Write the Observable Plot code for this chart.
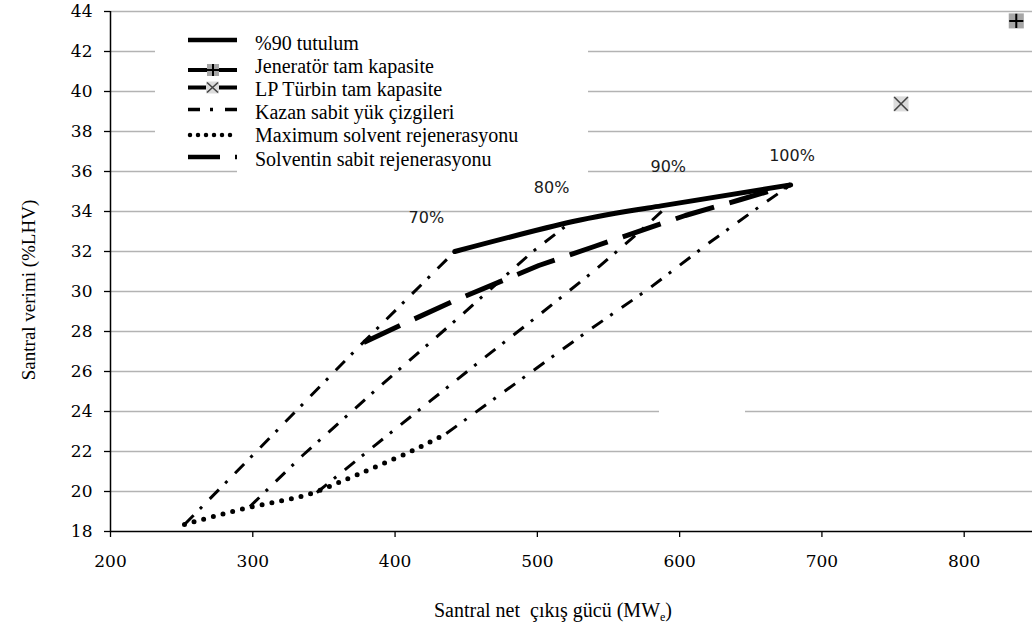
<!DOCTYPE html>
<html>
<head>
<meta charset="utf-8">
<script src="https://cdn.jsdelivr.net/npm/d3@7"></script>
<script src="https://cdn.jsdelivr.net/npm/@observablehq/plot@0.6"></script>
<style>
  html, body { margin: 0; padding: 0; background: white; }
  #chart { width: 1032px; height: 628px; }
</style>
</head>
<body>
<div id="chart"></div>
<script>
// ---- data ----
const xTicks = [200, 300, 400, 500, 600, 700, 800];
const yTicks = [18, 20, 22, 24, 26, 28, 30, 32, 34, 36, 38, 40, 42, 44];

// %90 tutulum (solid)
const tutulumX = [442, 525, 587, 678];
const tutulumY = [32.0, 33.5, 34.28, 35.33];

// Solventin sabit rejenerasyonu (long dash)
const sabitX = [378, 405, 442, 501, 540, 604, 643, 678];
const sabitY = [27.45, 28.35, 29.55, 31.3, 32.25, 33.8, 34.6, 35.33];

// Maximum solvent rejenerasyonu (dotted)
const maxX = [252, 274, 297, 320, 343, 367, 387, 414, 436];
const maxY = [18.35, 18.78, 19.2, 19.53, 19.95, 20.65, 21.25, 22.1, 22.9];

// Kazan sabit yük çizgileri (dash-dot), one per load
const kazanNames = ["70%", "80%", "90%", "100%"];
const k70X = [252, 306, 374, 442];
const k70Y = [18.35, 22.25, 27.2, 32.0];
const k80X = [298, 335, 390, 448, 496, 524];
const k80Y = [19.25, 21.8, 25.3, 28.9, 31.95, 33.5];
const k90X = [345, 387, 425, 463, 502, 540, 570, 592];
const k90Y = [19.95, 22.37, 24.54, 26.7, 28.87, 31.04, 32.87, 34.3];
const k100X = [436, 484, 537, 578, 622, 657, 678];
const k100Y = [22.9, 25.37, 28.1, 30.12, 32.5, 34.29, 35.33];

// Load labels
const pctLabels = ["70%", "80%", "90%", "100%"];
const pctX = [422, 510, 592, 679];
const pctY = [33.67, 35.17, 36.24, 36.79];

// Single points
const jenX = [836.6], jenY = [43.53];   // Jeneratör tam kapasite
const lpX = [755.6], lpY = [39.38];     // LP Türbin tam kapasite

const legendLabels = ["%90 tutulum", "Jeneratör tam kapasite", "LP Türbin tam kapasite",
  "Kazan sabit yük çizgileri", "Maximum solvent rejenerasyonu", "Solventin sabit rejenerasyonu"];

// ---- tables ----
const zip = (xs, ys, extra = {}) => xs.map((x, i) => ({x, y: ys[i], ...extra}));
const tutulum = zip(tutulumX, tutulumY);
const sabit = zip(sabitX, sabitY);
const maxSol = zip(maxX, maxY);
const kazan = [
  ...zip(k70X, k70Y, {s: kazanNames[0]}),
  ...zip(k80X, k80Y, {s: kazanNames[1]}),
  ...zip(k90X, k90Y, {s: kazanNames[2]}),
  ...zip(k100X, k100Y, {s: kazanNames[3]})
];
const pct = pctLabels.map((t, i) => ({t, x: pctX[i], y: pctY[i]}));
const jen = zip(jenX, jenY);
const lp = zip(lpX, lpY);

const chart = Plot.plot({
  width: 1032,
  height: 628,
  marginLeft: 110,
  marginRight: 0,
  marginTop: 11,
  marginBottom: 97,
  style: {background: "white", overflow: "visible", fontSize: "17px", color: "black"},
  x: {domain: [200, 848]},
  y: {domain: [18, 44]},
  marks: [
    Plot.ruleY(yTicks.slice(1), {stroke: "#b3b3b3", strokeWidth: 1.6}),
    Plot.ruleX([200], {stroke: "black", strokeWidth: 1.5}),
    Plot.ruleY([18], {stroke: "black", strokeWidth: 1.5}),
    Plot.axisX({ticks: xTicks, tickSize: 6, tickPadding: 17, fontSize: 17,
      label: null, tickFormat: d => String(d), strokeWidth: 1.3}),
    Plot.axisY({ticks: yTicks, tickSize: 6, tickPadding: 12, fontSize: 17,
      label: null, tickFormat: d => String(d), strokeWidth: 1.3}),
    Plot.line(kazan, {x: "x", y: "y", z: "s", stroke: "black", strokeWidth: 3,
      strokeDasharray: "13,9,3,11", strokeLinecap: "butt"}),
    Plot.line(maxSol, {x: "x", y: "y", stroke: "black", strokeWidth: 5,
      strokeDasharray: "0,10", strokeLinecap: "round", curve: "natural"}),
    Plot.line(sabit, {x: "x", y: "y", stroke: "black", strokeWidth: 5,
      strokeDasharray: "40,16", strokeLinecap: "butt"}),
    Plot.line(tutulum, {x: "x", y: "y", stroke: "black", strokeWidth: 5,
      strokeLinecap: "round", curve: "natural"}),
    Plot.dot(jen, {x: "x", y: "y", symbol: "square", r: 8.5, fill: "#a6a6a6"}),
    Plot.dot(jen, {x: "x", y: "y", symbol: "plus", r: 4.6, stroke: "black", strokeWidth: 2}),
    Plot.dot(lp, {x: "x", y: "y", symbol: "square", r: 8.5, fill: "#dcdcdc"}),
    Plot.dot(lp, {x: "x", y: "y", symbol: "times", r: 6.3, stroke: "#444", strokeWidth: 1.6}),
    Plot.text(pct, {x: "x", y: "y", text: "t", fontSize: 16, fontFamily: "DejaVu Sans",
      fill: "#1a1a1a"})
  ]
});

document.getElementById("chart").appendChild(chart);

// tick label font: every axis text gets an inline serif style
d3.select(chart).selectAll("g[aria-label] text").each(function () {
  const label = this.parentNode.getAttribute("aria-label") || "";
  if (label.indexOf("axis") >= 0) {
    this.style.fontFamily = "'DejaVu Serif', 'Liberation Serif', serif";
  }
});

// ---- decorations: grid gaps, legend, axis titles ----
const svg = d3.select(chart);
const gridG = chart.querySelector('g[aria-label="rule"]');
const maskG = document.createElementNS("http://www.w3.org/2000/svg", "g");
gridG.after(maskG);
const mask = d3.select(maskG).attr("fill", "white");
mask.append("rect").attr("x", 155).attr("y", 16).attr("width", 433).attr("height", 150);
mask.append("rect").attr("x", 237).attr("y", 160).attr("width", 351).attr("height", 16);
mask.append("rect").attr("x", 659).attr("y", 404).attr("width", 86).attr("height", 12);

const leg = svg.append("g").attr("text-anchor", "start");
const baseY = i => 49.5 + i * 23.2;
const lineY = [40, 70, 87.5, 109.5, 135, 157];
const x0 = 188, x1 = 237;
// samples
leg.append("line").attr("x1", x0).attr("x2", x1).attr("y1", lineY[0]).attr("y2", lineY[0])
  .attr("stroke", "black").attr("stroke-width", 4.5);
leg.append("line").attr("x1", x0).attr("x2", x1).attr("y1", lineY[1]).attr("y2", lineY[1])
  .attr("stroke", "black").attr("stroke-width", 4);
leg.append("rect").attr("x", 207).attr("y", lineY[1] - 6).attr("width", 12).attr("height", 12).attr("fill", "#a6a6a6");
leg.append("path").attr("d", `M207,${lineY[1]}H219M213,${lineY[1] - 6}V${lineY[1] + 6}`)
  .attr("stroke", "black").attr("stroke-width", 2);
leg.append("line").attr("x1", x0).attr("x2", x1).attr("y1", lineY[2]).attr("y2", lineY[2])
  .attr("stroke", "black").attr("stroke-width", 4);
leg.append("rect").attr("x", 206).attr("y", lineY[2] - 6).attr("width", 13).attr("height", 12).attr("fill", "#dcdcdc");
leg.append("path").attr("d", `M207,${lineY[2] - 5}L218,${lineY[2] + 5}M207,${lineY[2] + 5}L218,${lineY[2] - 5}`)
  .attr("stroke", "#444").attr("stroke-width", 1.6);
leg.append("line").attr("x1", x0).attr("x2", x1).attr("y1", lineY[3]).attr("y2", lineY[3])
  .attr("stroke", "black").attr("stroke-width", 3.5).attr("stroke-dasharray", "12,10,3,12,12");
leg.append("line").attr("x1", x0 + 2).attr("x2", x1).attr("y1", lineY[4]).attr("y2", lineY[4])
  .attr("stroke", "black").attr("stroke-width", 4.5).attr("stroke-dasharray", "0,8").attr("stroke-linecap", "round");
leg.append("line").attr("x1", x0).attr("x2", x1).attr("y1", lineY[5]).attr("y2", lineY[5])
  .attr("stroke", "black").attr("stroke-width", 4.5).attr("stroke-dasharray", "32,15,2,10");
legendLabels.forEach((t, i) => {
  leg.append("text").attr("x", 255).attr("y", baseY(i)).text(t)
    .attr("text-anchor", "start")
    .attr("font-family", "Liberation Serif").attr("font-size", 20).attr("fill", "black");
});

// axis titles
svg.append("text")
  .attr("transform", "translate(35,290) rotate(-90)")
  .attr("text-anchor", "middle")
  .attr("font-family", "Liberation Serif").attr("font-size", 19).attr("fill", "black")
  .text("Santral verimi (%LHV)");
const xt = svg.append("text")
  .attr("x", 553).attr("y", 617)
  .attr("text-anchor", "middle")
  .attr("font-family", "Liberation Serif").attr("font-size", 20).attr("fill", "black");
xt.append("tspan").text("Santral net \u00a0çıkış gücü (MW");
xt.append("tspan").attr("font-size", 12).attr("dy", 4).text("e");
xt.append("tspan").attr("dy", -4).text(")");
</script>
</body>
</html>
